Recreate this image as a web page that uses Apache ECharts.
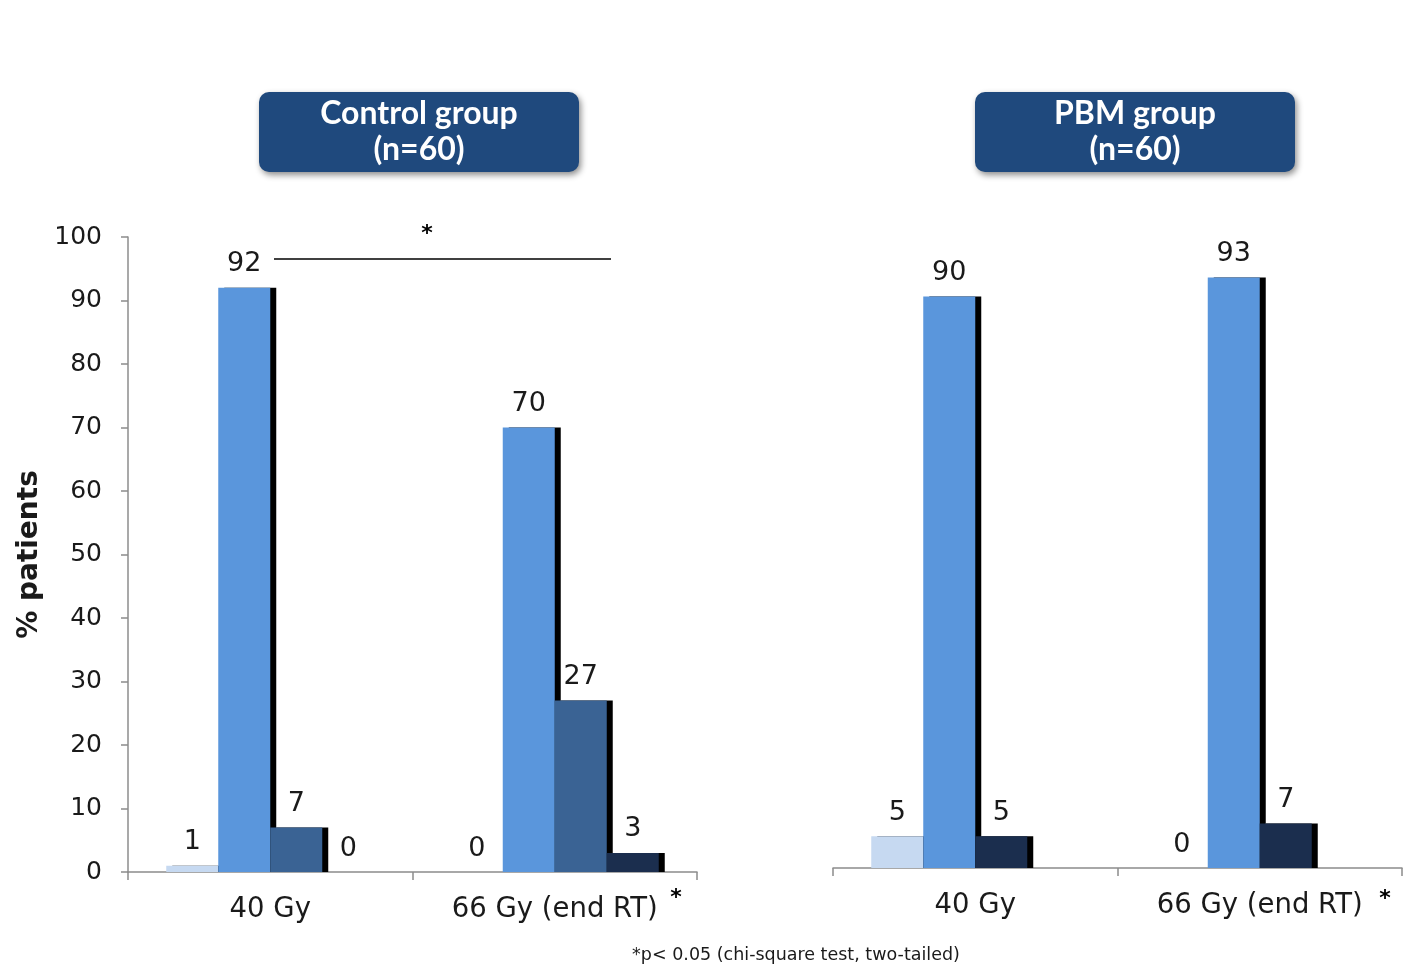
<!DOCTYPE html>
<html><head><meta charset="utf-8">
<script src="https://cdn.jsdelivr.net/npm/echarts@6/dist/echarts.min.js"></script>
<style>html,body{margin:0;padding:0;background:#fff}#c{width:1404px;height:968px}</style>
</head><body><div id="c"></div>
<script>
const categories = ['40 Gy', '66 Gy (end RT)'];
const yTicks = [0,10,20,30,40,50,60,70,80,90,100];
// Control group (n=60)
const ctrlGrade0 = [1, 0];
const ctrlGrade1 = [92, 70];
const ctrlGrade2 = [7, 27];
const ctrlGrade3 = [0, 3];
// PBM group (n=60)
const pbmGrade0 = [5, 0];
const pbmGrade1 = [90, 93];
const pbmGrade2 = [5, 7];
const pbmGrade3 = [null, null];

const FONT = 'DejaVu Sans';
const TXT = '#1a1a1a';
const colLight = '#c6d9f1', colMed = '#5a96dc', colDark = '#3a6394', colNavy = '#1b2e4e';

function barSeries(data, color, xi, showLabel) {
  return {
    type: 'bar', data: data, xAxisIndex: xi, yAxisIndex: xi,
    barWidth: 52, barGap: '0%',
    itemStyle: {
      color: color,
      shadowColor: '#000', shadowOffsetX: 6, shadowOffsetY: 0, shadowBlur: 0
    },
    label: { show: showLabel, position: 'top', distance: 10, fontFamily: FONT, fontSize: 27, color: TXT },
    z: 3
  };
}

const chart = echarts.init(document.getElementById('c'), null, {renderer: 'canvas'});
chart.setOption({
  animation: false,
  backgroundColor: '#fff',
  grid: [
    {left: 128, top: 237, width: 569, height: 635},
    {left: 833, top: 233, width: 569, height: 635}
  ],
  xAxis: [0,1].map(i => ({
    type: 'category', data: categories, gridIndex: i,
    axisLine: {lineStyle: {color: '#8c8c8c', width: 1.5}},
    axisTick: {show: true, length: 8, lineStyle: {color: '#8c8c8c', width: 1.5}},
    axisLabel: {fontFamily: FONT, fontSize: 27.5, color: TXT, margin: 24}
  })),
  yAxis: [
    {type: 'value', gridIndex: 0, min: 0, max: 100, interval: 10,
     name: '% patients', nameLocation: 'middle', nameGap: 84, nameRotate: 90,
     nameTextStyle: {fontFamily: FONT, fontWeight: 'bold', fontSize: 28, color: TXT},
     axisLine: {show: true, lineStyle: {color: '#8c8c8c', width: 1.5}},
     axisTick: {show: true, length: 7, lineStyle: {color: '#8c8c8c', width: 1.5}},
     axisLabel: {fontFamily: FONT, fontSize: 25, color: TXT, margin: 26},
     splitLine: {show: false}},
    {type: 'value', gridIndex: 1, min: 0, max: 100, interval: 10, show: false,
     splitLine: {show: false}}
  ],
  series: [
    barSeries(ctrlGrade0, colLight, 0, true),
    barSeries(ctrlGrade1, colMed, 0, true),
    barSeries(ctrlGrade2, colDark, 0, true),
    barSeries(ctrlGrade3, colNavy, 0, true),
    barSeries(pbmGrade0, colLight, 1, true),
    barSeries(pbmGrade1, colMed, 1, true),
    barSeries(pbmGrade2, colNavy, 1, true),
    barSeries(pbmGrade3, colNavy, 1, false)
  ],
  graphic: [
    {type: 'rect', shape: {x: 259, y: 92, width: 320, height: 80, r: 10},
     style: {fill: '#1f497d', shadowColor: 'rgba(0,0,0,0.45)', shadowBlur: 6, shadowOffsetX: 2, shadowOffsetY: 3}, z: 10},
    {type: 'text', x: 419, y: 132, z: 11,
     style: {text: 'Control group\n(n=60)', align: 'center', verticalAlign: 'middle', fill: '#fff',
             font: 'bold 32px Lato', lineHeight: 36}},
    {type: 'rect', shape: {x: 975, y: 92, width: 320, height: 80, r: 10},
     style: {fill: '#1f497d', shadowColor: 'rgba(0,0,0,0.45)', shadowBlur: 6, shadowOffsetX: 2, shadowOffsetY: 3}, z: 10},
    {type: 'text', x: 1135, y: 132, z: 11,
     style: {text: 'PBM group\n(n=60)', align: 'center', verticalAlign: 'middle', fill: '#fff',
             font: 'bold 32px Lato', lineHeight: 36}},
    {type: 'line', shape: {x1: 274, y1: 259, x2: 611, y2: 259}, style: {stroke: '#000', lineWidth: 1.5}, z: 10},
    {type: 'text', x: 427, y: 234, z: 11,
     style: {text: '*', align: 'center', verticalAlign: 'middle', fill: '#000', font: 'bold 22px ' + FONT}},
    {type: 'text', x: 676, y: 898, z: 11,
     style: {text: '*', align: 'center', verticalAlign: 'middle', fill: '#000', font: 'bold 22px ' + FONT}},
    {type: 'text', x: 1385, y: 899, z: 11,
     style: {text: '*', align: 'center', verticalAlign: 'middle', fill: '#000', font: 'bold 22px ' + FONT}},
    {type: 'text', x: 796, y: 955, z: 11,
     style: {text: '*p< 0.05 (chi-square test, two-tailed)', align: 'center', verticalAlign: 'middle',
             fill: TXT, font: '17.5px ' + FONT}}
  ]
});
</script></body></html>
